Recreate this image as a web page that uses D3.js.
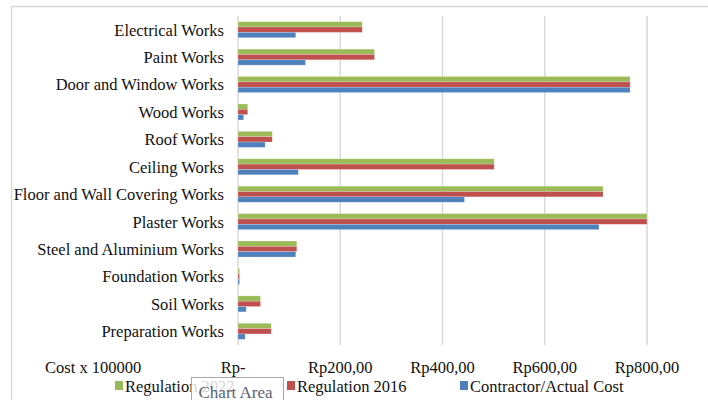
<!DOCTYPE html>
<html>
<head>
<meta charset="utf-8">
<script src="https://cdn.jsdelivr.net/npm/d3@7"></script>
<style>
  html, body { margin: 0; padding: 0; background: #fff; }
  svg { display: block; }
  text { font-family: "Liberation Serif", "Times New Roman", serif; }
</style>
</head>
<body>
<svg id="chart" width="708" height="400"></svg>
<script>
// Work categories, top to bottom
const categories = [
  "Electrical Works",
  "Paint Works",
  "Door and Window Works",
  "Wood Works",
  "Roof Works",
  "Ceiling Works",
  "Floor and Wall Covering Works",
  "Plaster Works",
  "Steel and Aluminium Works",
  "Foundation Works",
  "Soil Works",
  "Preparation Works"
];

// Cost per category, in units of Rp 100000
const regulation2022 = [243, 267, 767, 19, 67, 501, 714, 800, 115, 3, 44, 65];
const regulation2016 = [243, 267, 767, 19, 67, 501, 714, 800, 115, 3, 44, 65];
const contractorCost = [113, 132, 767, 11, 53, 118, 443, 706, 113, 3, 16, 14];

const seriesNames = ["Regulation 2022", "Regulation 2016", "Contractor/Actual Cost"];
const seriesColors = ["#9BBB59", "#C0504D", "#4F81BD"];
const tickValues = [0, 200, 400, 600, 800];

const series = [regulation2022, regulation2016, contractorCost];

const svg = d3.select("#chart");
const plot = { left: 238, right: 647, top: 16, bottom: 345 };

// Chart area frame
svg.append("rect")
  .attr("x", 11.5).attr("y", 6.5)
  .attr("width", 720).attr("height", 420)
  .attr("fill", "#fff").attr("stroke", "#d9d9d9").attr("stroke-width", 1.5);

const x = d3.scaleLinear().domain([0, 800]).range([plot.left, plot.right]);

const pad = 1 - 16 / ((plot.bottom - plot.top) / categories.length);
const y0 = d3.scaleBand().domain(categories)
  .range([plot.top, plot.bottom]).paddingInner(pad).paddingOuter(pad / 2);
const y1 = d3.scaleBand().domain(seriesNames).range([0, y0.bandwidth()]);

// Vertical gridlines
svg.append("g")
  .selectAll("line")
  .data(tickValues)
  .join("line")
  .attr("x1", d => x(d)).attr("x2", d => x(d))
  .attr("y1", plot.top).attr("y2", plot.bottom)
  .attr("stroke", "#d9d9d9").attr("stroke-width", 1.5);

// Bars
const groups = svg.append("g")
  .selectAll("g")
  .data(categories)
  .join("g")
  .attr("transform", c => `translate(0,${y0(c)})`);

groups.selectAll("rect")
  .data((c, i) => seriesNames.map((s, k) => ({ s, v: series[k][i], color: seriesColors[k] })))
  .join("rect")
  .attr("x", x(0))
  .attr("y", d => y1(d.s))
  .attr("width", d => x(d.v) - x(0))
  .attr("height", y1.bandwidth())
  .attr("fill", d => d.color)
  .attr("stroke", "rgba(255,255,255,0.35)")
  .attr("stroke-width", 0.6);

// Category labels
svg.append("g")
  .selectAll("text")
  .data(categories)
  .join("text")
  .attr("x", plot.left - 14)
  .attr("y", c => y0(c) + y0.bandwidth() / 2)
  .attr("dy", "0.36em")
  .attr("text-anchor", "end")
  .attr("font-size", 16.5)
  .attr("fill", "#111")
  .text(c => c);

// Value axis labels
const fmt = v => v === 0 ? "Rp-" : "Rp" + d3.format(",.2f")(v).replace(".", ",");
svg.append("g")
  .selectAll("text")
  .data(tickValues)
  .join("text")
  .attr("x", d => x(d) + (d === 0 ? -5 : 0))
  .attr("y", 373)
  .attr("text-anchor", "middle")
  .attr("font-size", 16.5)
  .attr("fill", "#111")
  .text(fmt);

svg.append("text")
  .attr("x", 45).attr("y", 373)
  .attr("font-size", 16.5)
  .attr("fill", "#111")
  .text("Cost x 100000");

// Legend
const legendX = [115, 287, 460];
const legend = svg.append("g")
  .selectAll("g")
  .data(seriesNames)
  .join("g")
  .attr("transform", (d, i) => `translate(${legendX[i]},381)`);
legend.append("rect")
  .attr("width", 8).attr("height", 9)
  .attr("fill", (d, i) => seriesColors[i]);
legend.append("text")
  .attr("x", 10).attr("y", 11)
  .attr("font-size", 16.5)
  .attr("fill", "#111")
  .text(d => d);

// Hover tooltip over the chart area
const tip = svg.append("g").attr("transform", "translate(191.5,377.5)");
tip.append("rect")
  .attr("width", 92).attr("height", 30)
  .attr("fill", "rgba(255,255,255,0.82)")
  .attr("stroke", "#a6a6a6").attr("stroke-width", 1);
tip.append("text")
  .attr("x", 7).attr("y", 20)
  .attr("font-family", "'Noto Sans', 'Open Sans', sans-serif")
  .attr("font-size", 17)
  .attr("fill", "#5b6270")
  .text("Chart Area");
</script>
</body>
</html>
